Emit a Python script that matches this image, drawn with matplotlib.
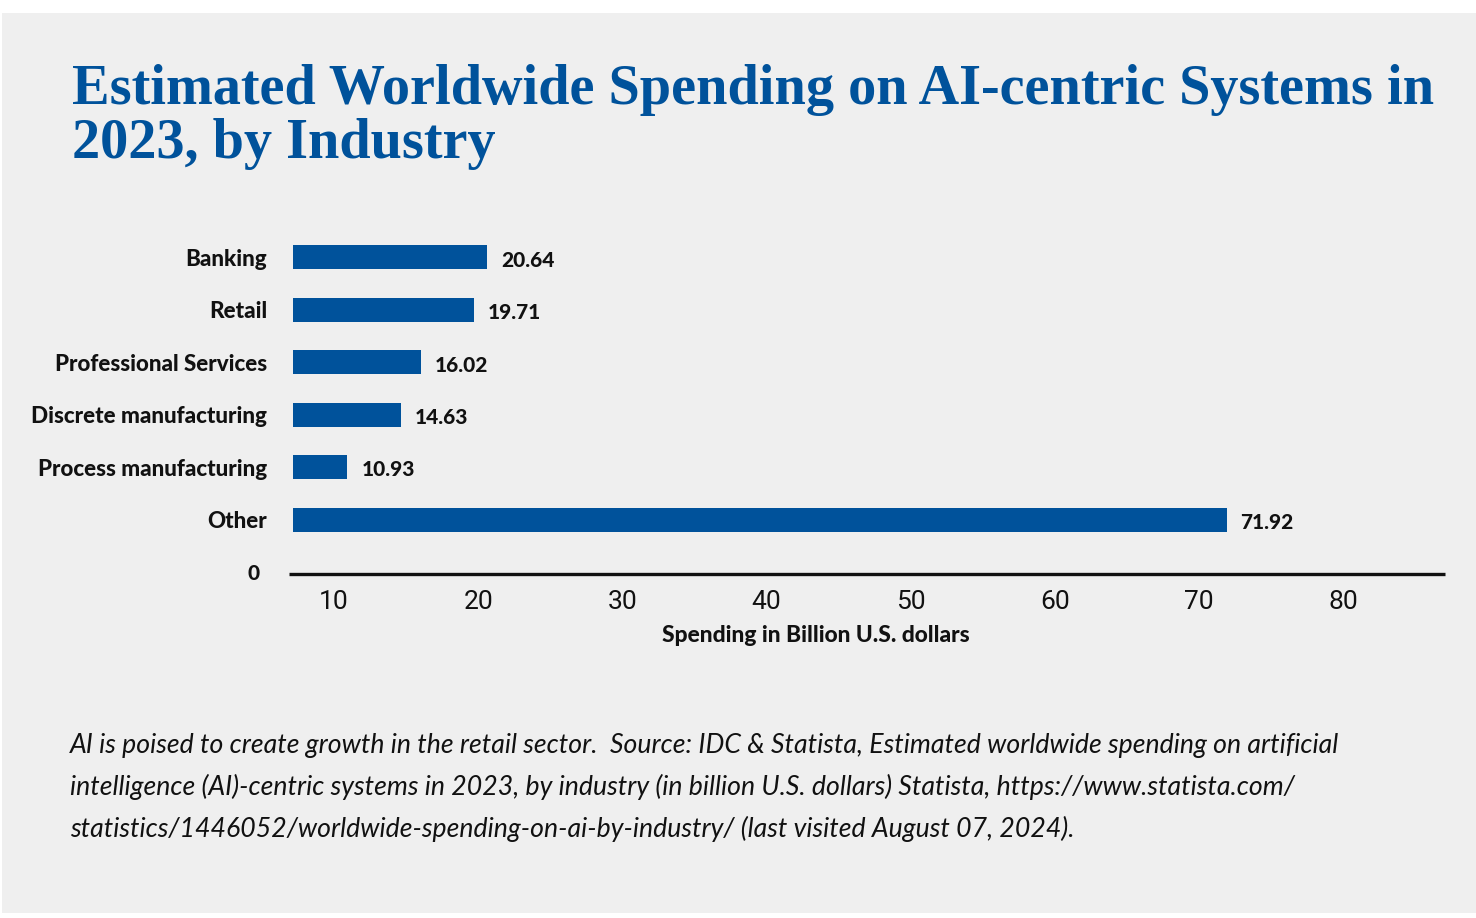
import matplotlib
matplotlib.use("Agg")
import matplotlib.pyplot as plt
from matplotlib.patches import Rectangle
from matplotlib.lines import Line2D

# ---------------- data ----------------
categories = ["Banking", "Retail", "Professional Services",
              "Discrete manufacturing", "Process manufacturing", "Other"]
values = [20.64, 19.71, 16.02, 14.63, 10.93, 71.92]
value_labels = ["20.64", "19.71", "16.02", "14.63", "10.93", "71.92"]
xticks = [10, 20, 30, 40, 50, 60, 70, 80]
xtick_labels = ["10", "20", "30", "40", "50", "60", "70", "80"]
title_lines = ["Estimated Worldwide Spending on AI-centric Systems in",
               "2023, by Industry"]
xlabel = "Spending in Billion U.S. dollars"
caption_lines = [
    "AI is poised to create growth in the retail sector.  Source: IDC & Statista, Estimated worldwide spending on artificial",
    "intelligence (AI)-centric systems in 2023, by industry (in billion U.S. dollars) Statista, https://www.statista.com/",
    "statistics/1446052/worldwide-spending-on-ai-by-industry/ (last visited August 07, 2024).",
]

# ---------------- style ----------------
W, H = 1476, 918
BLUE = "#00529b"
BG = "#efefef"
TXT = "#111111"
SANS_B = ["Lato", "DejaVu Sans"]
BOLD_W = "black"
SERIF = ["Liberation Serif", "DejaVu Serif"]
TICKF = ["Liberation Sans Narrow", "Roboto", "DejaVu Sans"]

fig = plt.figure(figsize=(W / 100, H / 100), dpi=100)
fig.patch.set_facecolor("white")
fig.patches.append(Rectangle((2 / W, 5 / H), (W - 2) / W, 900 / H,
                             transform=fig.transFigure, facecolor=BG,
                             edgecolor="none", zorder=-10))
renderer = fig.canvas.get_renderer()


def fx(px):
    return px / W


def fy(py):
    return 1 - py / H


def fit(t, target):
    w = t.get_window_extent(renderer).width
    t.set_fontsize(t.get_fontsize() * target / w)
    return t.get_fontsize()


# ---------------- title ----------------
t1 = fig.text(fx(72), fy(104), title_lines[0], family=SERIF, weight="bold",
              color=BLUE, fontsize=40, ha="left", va="baseline")
ts = fit(t1, 1360)
fig.text(fx(72), fy(158), title_lines[1], family=SERIF, weight="bold",
         color=BLUE, fontsize=ts, ha="left", va="baseline")

# ---------------- axes ----------------
ax_left, ax_right, ax_top, ax_bot = 293, 1445, 220, 574
ax = fig.add_axes([fx(ax_left), fy(ax_bot), fx(ax_right - ax_left),
                   (ax_bot - ax_top) / H])
ax.set_facecolor("none")
px_per_unit = (1343 - 334) / 70.0
x0 = 10 - (334 - ax_left) / px_per_unit
x1 = 10 + (ax_right - 334) / px_per_unit
ax.set_xlim(x0, x1)
row = 52.4
ypos = list(range(len(categories)))
ax.set_ylim(5 + (ax_bot - 519.5) / row, -(257.5 - ax_top) / row)

ax.barh(ypos, values, height=24 / row, color=BLUE, zorder=2)

for s in ["top", "right", "left", "bottom"]:
    ax.spines[s].set_visible(False)
# axis baseline (slightly extends left of the bars, as in the original)
fig.add_artist(Line2D([fx(289), fx(1445)], [fy(574), fy(574)],
                      transform=fig.transFigure, color="#111111",
                      linewidth=2.4, solid_capstyle="butt"))

# category labels
tmp = fig.text(0, 0, "Professional Services", family=SANS_B, weight=BOLD_W,
               fontsize=14)
cat_fs = fit(tmp, 214)
tmp.remove()
ax.set_yticks(ypos)
ax.set_yticklabels(categories, family=SANS_B, weight=BOLD_W,
                   fontsize=cat_fs, color=TXT)
ax.tick_params(axis="y", length=0, pad=26 * 72 / 100)

# x ticks
ax.set_xticks(xticks)
ax.set_xticklabels(xtick_labels, family=TICKF, fontsize=19, color=TXT)
ax.tick_params(axis="x", length=0, pad=16 * 72 / 100)

# value labels
val_fs = 15
for y, v, lab in zip(ypos, values, value_labels):
    ax.annotate(lab, (v, y), xytext=(10, -2), textcoords="offset points",
                ha="left", va="center", family=SANS_B, weight=BOLD_W,
                fontsize=val_fs, color=TXT)

# zero label at the axis line
fig.text(fx(260), fy(574), "0", family=SANS_B, weight=BOLD_W,
         fontsize=val_fs, color=TXT, ha="right", va="center")

# x label
xl = fig.text(fx(815.5), fy(636), xlabel, family=SANS_B, weight=BOLD_W,
              fontsize=14, color=TXT, ha="center", va="center")
fit(xl, 309)

# ---------------- caption ----------------
c1 = fig.text(fx(70), fy(745), caption_lines[0],
              family=["Lato", "DejaVu Sans"], style="italic", fontsize=16,
              color=TXT, ha="left", va="center")
cs = fit(c1, 1268)
for i, line in enumerate(caption_lines[1:], start=1):
    fig.text(fx(70), fy(745 + 42 * i), line, family=["Lato", "DejaVu Sans"],
             style="italic", fontsize=cs, color=TXT, ha="left", va="center")

fig.savefig("out.png", dpi=100, facecolor=fig.get_facecolor())
